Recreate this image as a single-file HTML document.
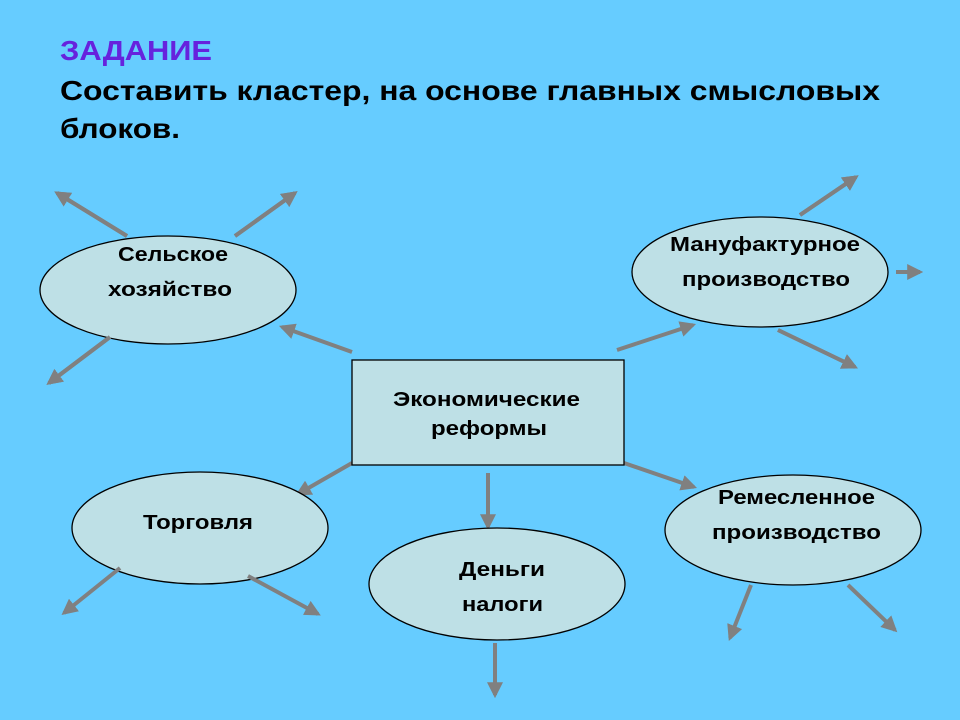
<!DOCTYPE html>
<html><head><meta charset="utf-8"><style>
html,body{margin:0;padding:0;background:#66CCFF;}
svg{display:block;}
text{font-family:"Liberation Sans",Arial,sans-serif;}
</style></head><body>
<svg width="960" height="720" viewBox="0 0 960 720" xmlns="http://www.w3.org/2000/svg">
<defs>
<marker id="a" viewBox="0 0 10 10" refX="8" refY="5" markerWidth="4" markerHeight="4" orient="auto"><path d="M0,0 L10,5 L0,10 z" fill="#808080"/></marker>
</defs>
<rect width="960" height="720" fill="#66CCFF"/>
<g font-weight="bold" lengthAdjust="spacingAndGlyphs">
<text x="60" y="60" font-size="28" fill="#6622DD" textLength="152" lengthAdjust="spacingAndGlyphs">ЗАДАНИЕ</text>
<text x="60" y="100" font-size="28" fill="#000" textLength="820" lengthAdjust="spacingAndGlyphs">Составить кластер, на основе главных смысловых</text>
<text x="60" y="138" font-size="28" fill="#000" textLength="120" lengthAdjust="spacingAndGlyphs">блоков.</text>
</g>
<g stroke="#808080" stroke-width="4" marker-end="url(#a)">
<line x1="127" y1="236" x2="57" y2="193"/>
<line x1="235" y1="236" x2="295" y2="193"/>
<line x1="110" y1="337" x2="49" y2="383"/>
<line x1="352" y1="352" x2="282" y2="327"/>
<line x1="617" y1="350" x2="693" y2="325"/>
<line x1="800" y1="215" x2="856" y2="177"/>
<line x1="896" y1="272" x2="920" y2="272"/>
<line x1="778" y1="330" x2="855" y2="367"/>
<line x1="352" y1="463" x2="298" y2="494"/>
<line x1="488" y1="473" x2="488" y2="527"/>
<line x1="624" y1="463" x2="694" y2="487"/>
<line x1="495" y1="643" x2="495" y2="695"/>
</g>
<g fill="#BEE0E6" stroke="#000" stroke-width="1.3">
<ellipse cx="168" cy="290" rx="128" ry="54"/>
<ellipse cx="760" cy="272" rx="128" ry="55"/>
<ellipse cx="200" cy="528" rx="128" ry="56"/>
<ellipse cx="497" cy="584" rx="128" ry="56"/>
<ellipse cx="793" cy="530" rx="128" ry="55"/>
<rect x="352" y="360" width="272" height="105"/>
</g>
<g stroke="#808080" stroke-width="4" marker-end="url(#a)">
<line x1="127" y1="236" x2="57" y2="193"/>
<line x1="235" y1="236" x2="295" y2="193"/>
<line x1="110" y1="337" x2="49" y2="383"/>
<line x1="800" y1="215" x2="856" y2="177"/>
<line x1="778" y1="330" x2="855" y2="367"/>
<line x1="120" y1="568" x2="64" y2="613"/>
<line x1="248" y1="576" x2="318" y2="614"/>
<line x1="751" y1="585" x2="730" y2="638"/>
<line x1="848" y1="585" x2="895" y2="630"/>
</g>
<g font-size="20" font-weight="bold" fill="#000">
<text x="118" y="261" textLength="110" lengthAdjust="spacingAndGlyphs">Сельское</text>
<text x="108" y="296" textLength="124" lengthAdjust="spacingAndGlyphs">хозяйство</text>
<text x="670" y="251" textLength="190" lengthAdjust="spacingAndGlyphs">Мануфактурное</text>
<text x="682" y="286" textLength="168" lengthAdjust="spacingAndGlyphs">производство</text>
<text x="143" y="529" textLength="110" lengthAdjust="spacingAndGlyphs">Торговля</text>
<text x="459" y="576" textLength="86" lengthAdjust="spacingAndGlyphs">Деньги</text>
<text x="462" y="611" textLength="81" lengthAdjust="spacingAndGlyphs">налоги</text>
<text x="718" y="504" textLength="157" lengthAdjust="spacingAndGlyphs">Ремесленное</text>
<text x="712" y="539" textLength="169" lengthAdjust="spacingAndGlyphs">производство</text>
<text x="393" y="406" textLength="187" lengthAdjust="spacingAndGlyphs">Экономические</text>
<text x="431" y="435" textLength="116" lengthAdjust="spacingAndGlyphs">реформы</text>
</g>
</svg>
</body></html>
